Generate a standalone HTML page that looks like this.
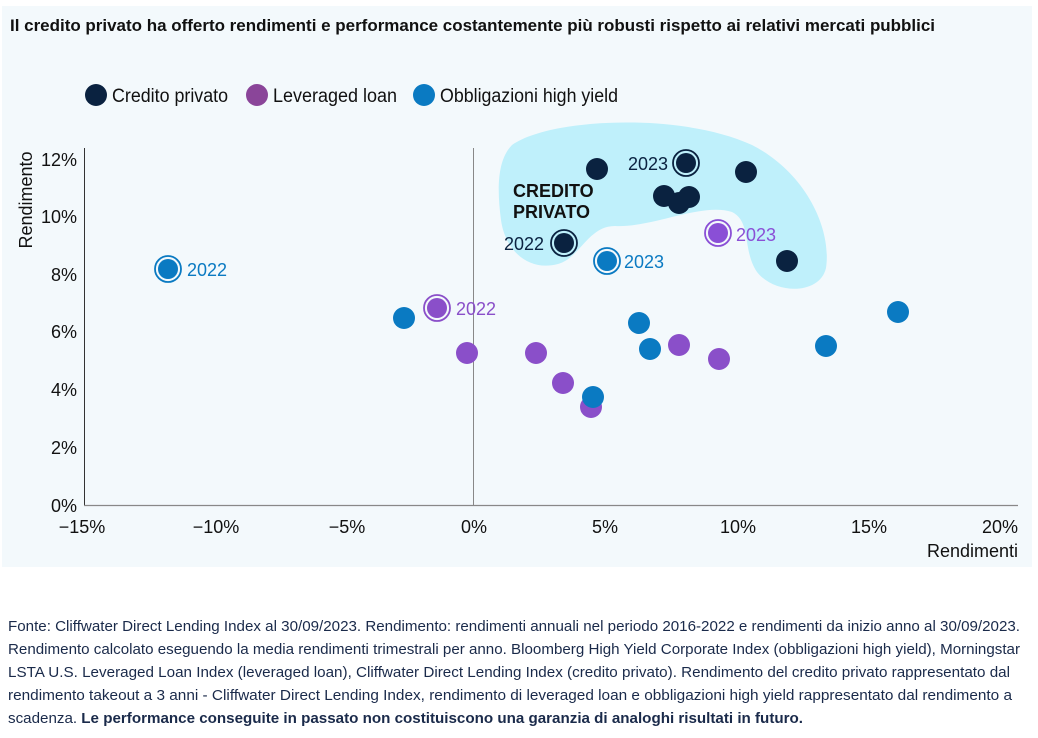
<!DOCTYPE html>
<html><head><meta charset="utf-8"><style>
html,body{margin:0;padding:0;background:#fff;}
svg{display:block;font-family:"Liberation Sans",sans-serif;}
</style></head><body>
<svg width="1038" height="738" viewBox="0 0 1038 738">
<rect x="2" y="6" width="1030" height="561" fill="#f3f9fc"/>
<text x="10" y="31" font-size="17" font-weight="bold" fill="#111" textLength="925" lengthAdjust="spacingAndGlyphs">Il credito privato ha offerto rendimenti e performance costantemente più robusti rispetto ai relativi mercati pubblici</text>
<!-- legend -->
<circle cx="96" cy="95" r="11" fill="#0a2240"/>
<text x="112" y="102" font-size="19" fill="#111" textLength="116" lengthAdjust="spacingAndGlyphs">Credito privato</text>
<circle cx="257" cy="95" r="11" fill="#8a4599"/>
<text x="273" y="102" font-size="19" fill="#111" textLength="124" lengthAdjust="spacingAndGlyphs">Leveraged loan</text>
<circle cx="424" cy="95" r="11" fill="#0a7ac2"/>
<text x="440" y="102" font-size="19" fill="#111" textLength="178" lengthAdjust="spacingAndGlyphs">Obbligazioni high yield</text>
<!-- blob -->
<path d="M512,145 C550,118 680,112 752,145 C805,172 832,228 826,268 C820,295 775,295 757,272 C742,250 752,222 732,212 C702,202 652,228 615,226 C588,226 580,258 558,264 C528,272 505,250 501,220 C497,190 497,160 512,145 Z" fill="#bff0fb"/>
<!-- axes -->
<line x1="84.5" y1="148" x2="84.5" y2="505" stroke="#333" stroke-width="1"/>
<line x1="473.5" y1="148" x2="473.5" y2="505" stroke="#888" stroke-width="1"/>
<line x1="84" y1="505.5" x2="1018" y2="505.5" stroke="#888" stroke-width="1.2"/>
<g font-size="18" fill="#111" text-anchor="end">
<text x="77" y="166">12%</text><text x="77" y="223">10%</text><text x="77" y="281">8%</text>
<text x="77" y="338">6%</text><text x="77" y="396">4%</text><text x="77" y="454">2%</text><text x="77" y="512">0%</text>
</g>
<g font-size="18" fill="#111" text-anchor="middle">
<text x="82" y="533">−15%</text><text x="216" y="533">−10%</text><text x="347" y="533">−5%</text>
<text x="474" y="533">0%</text><text x="605" y="533">5%</text><text x="738" y="533">10%</text>
<text x="869" y="533">15%</text><text x="1000" y="533">20%</text>
</g>
<text x="1018" y="557" font-size="18" fill="#111" text-anchor="end">Rendimenti</text>
<text transform="translate(32,200) rotate(-90)" font-size="18" fill="#111" text-anchor="middle">Rendimento</text>
<text x="513" y="197" font-size="18" font-weight="bold" fill="#111">CREDITO</text>
<text x="513" y="218" font-size="18" font-weight="bold" fill="#111">PRIVATO</text>
<!-- purple -->
<g fill="#8a4fc9">
<circle cx="467" cy="353" r="11"/><circle cx="536" cy="353" r="11"/><circle cx="563" cy="383" r="11"/>
<circle cx="591" cy="407" r="11"/><circle cx="679" cy="345" r="11"/><circle cx="719" cy="359" r="11"/>
</g>
<!-- blue -->
<g fill="#0a7ac2">
<circle cx="404" cy="318" r="11"/><circle cx="639" cy="323" r="11"/><circle cx="650" cy="349" r="11"/>
<circle cx="593" cy="397" r="11"/><circle cx="826" cy="346" r="11"/><circle cx="898" cy="312" r="11"/>
</g>
<!-- navy -->
<g fill="#0a2240">
<circle cx="597" cy="169" r="11"/><circle cx="746" cy="172" r="11"/><circle cx="664" cy="196" r="11"/>
<circle cx="689" cy="197" r="11"/><circle cx="679" cy="203" r="11"/><circle cx="787" cy="261" r="11"/>
</g>
<!-- ringed -->
<g stroke-width="1.8" fill="none">
<circle cx="686" cy="163" r="13" stroke="#0a2240"/><circle cx="564" cy="243" r="13" stroke="#0a2240"/>
<circle cx="437" cy="308" r="13" stroke="#8a4fc9"/><circle cx="718" cy="233" r="13" stroke="#8a4fd6"/>
<circle cx="168" cy="269" r="13" stroke="#0a7ac2"/><circle cx="607" cy="261" r="13" stroke="#0a7ac2"/>
</g>
<circle cx="686" cy="163" r="10" fill="#0a2240"/><circle cx="564" cy="243" r="10" fill="#0a2240"/>
<circle cx="437" cy="308" r="10" fill="#8a4fc9"/><circle cx="718" cy="233" r="10" fill="#8a4fd6"/>
<circle cx="168" cy="269" r="10" fill="#0a7ac2"/><circle cx="607" cy="261" r="10" fill="#0a7ac2"/>
<g font-size="18">
<text x="628" y="170" fill="#0a2240">2023</text>
<text x="504" y="250" fill="#0a2240">2022</text>
<text x="456" y="315" fill="#8a4fc9">2022</text>
<text x="736" y="241" fill="#8a4fd6">2023</text>
<text x="187" y="276" fill="#0a7ac2">2022</text>
<text x="624" y="268" fill="#0a7ac2">2023</text>
</g>
<!-- footnote -->
<g font-size="15" fill="#1a2a4a">
<text x="8" y="631" textLength="1012" lengthAdjust="spacingAndGlyphs">Fonte: Cliffwater Direct Lending Index al 30/09/2023. Rendimento: rendimenti annuali nel periodo 2016-2022 e rendimenti da inizio anno al 30/09/2023.</text>
<text x="8" y="654" textLength="1012" lengthAdjust="spacingAndGlyphs">Rendimento calcolato eseguendo la media rendimenti trimestrali per anno. Bloomberg High Yield Corporate Index (obbligazioni high yield), Morningstar</text>
<text x="8" y="677" textLength="1002" lengthAdjust="spacingAndGlyphs">LSTA U.S. Leveraged Loan Index (leveraged loan), Cliffwater Direct Lending Index (credito privato). Rendimento del credito privato rappresentato dal</text>
<text x="8" y="700" textLength="1004" lengthAdjust="spacingAndGlyphs">rendimento takeout a 3 anni - Cliffwater Direct Lending Index, rendimento di leveraged loan e obbligazioni high yield rappresentato dal rendimento a</text>
<text x="8" y="723" textLength="795" lengthAdjust="spacingAndGlyphs">scadenza. <tspan font-weight="bold">Le performance conseguite in passato non costituiscono una garanzia di analoghi risultati in futuro.</tspan></text>
</g>
</svg>
</body></html>
